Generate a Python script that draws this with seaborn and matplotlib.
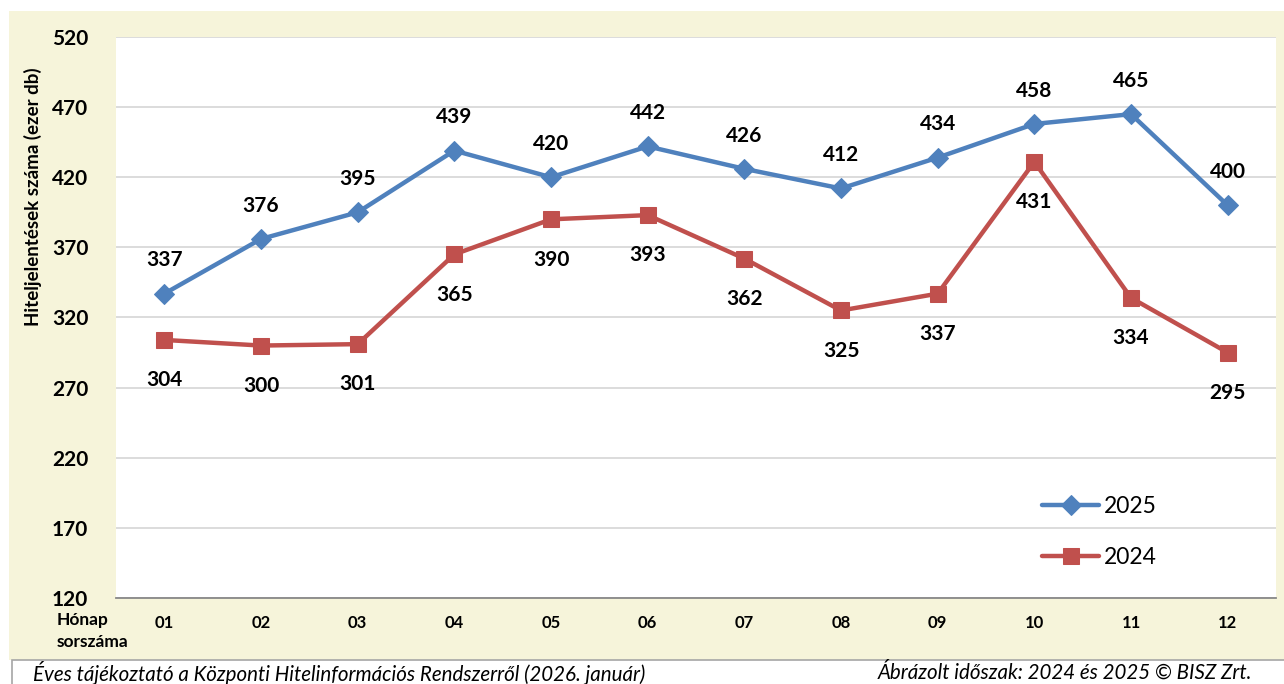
#%% Hiteljelentések száma havonta (2024 vs 2025)
import pandas as pd
import seaborn as sns
import matplotlib.pyplot as plt
from matplotlib.patches import Rectangle
from matplotlib.ticker import FixedLocator, NullFormatter

#%% Adatok

honapok = ['01', '02', '03', '04', '05', '06', '07', '08', '09', '10', '11', '12']
ertek_2025 = [337, 376, 395, 439, 420, 442, 426, 412, 434, 458, 465, 400]
ertek_2024 = [304, 300, 301, 365, 390, 393, 362, 325, 337, 431, 334, 295]
y_ticks = [120, 170, 220, 270, 320, 370, 420, 470, 520]

kek = '#4F81BD'
piros = '#C0504D'
bezs = '#F6F4DA'

df = pd.DataFrame({'idx': range(len(honapok)), '2025': ertek_2025, '2024': ertek_2024})

#%% Ábra

sns.set_style('white')
plt.rcParams['font.family'] = ['Lato', 'DejaVu Sans']
plt.rcParams['text.color'] = 'black'
plt.rcParams['xtick.labelcolor'] = 'black'
plt.rcParams['ytick.labelcolor'] = 'black'

fig = plt.figure(figsize=(12.84, 6.84), dpi=100)
fig.patch.set_facecolor('white')
W, H = 1284, 684

# bézs háttér
fig.patches.append(Rectangle((9 / W, 1 - 660 / H), 1 - 9 / W, (660 - 11) / H,
                             transform=fig.transFigure, facecolor=bezs, edgecolor='none', zorder=-2))
# lábléc doboz
fig.patches.append(Rectangle((12 / W, -0.01), 1 - 12 / W + 0.01, (684 - 660) / H + 0.01,
                             transform=fig.transFigure, facecolor='white', edgecolor='#A6A6A6',
                             linewidth=1.2, zorder=-2))

ax = fig.add_axes([116 / W, 1 - 598 / H, (1276 - 116) / W, (598 - 37) / H])
ax.set_zorder(1)
ax.set_facecolor('white')

sns.lineplot(data=df, x='idx', y='2025', ax=ax, color=kek, linewidth=3.2,
             marker='D', markersize=10, markeredgecolor=kek, label='2025', zorder=4)
sns.lineplot(data=df, x='idx', y='2024', ax=ax, color=piros, linewidth=3.2,
             marker='s', markersize=12, markeredgecolor=piros, label='2024', zorder=3)

ax.set_xlim(-0.5, len(honapok) - 0.5)
ax.set_ylim(120, 520)
ax.set_yticks(y_ticks)
ax.set_yticklabels([str(v) for v in y_ticks], fontsize=15, fontweight='bold')
ax.yaxis.grid(True, color='#D9D9D9', linewidth=1.3)
ax.tick_params(axis='y', length=0, pad=20)

# kategória-határokon tickek, középen címkék
ax.xaxis.set_major_locator(FixedLocator([i - 0.5 for i in range(len(honapok) + 1)]))
ax.xaxis.set_major_formatter(NullFormatter())
ax.xaxis.set_minor_locator(FixedLocator(list(range(len(honapok)))))
ax.set_xticklabels(honapok, minor=True, fontsize=12, fontweight='bold')
ax.tick_params(axis='x', which='major', length=5, color='#888888', direction='out')
ax.tick_params(axis='x', which='minor', length=0, pad=12)

for s in ['top', 'right', 'left']:
    ax.spines[s].set_visible(False)
ax.spines['bottom'].set_color('#888888')
ax.spines['bottom'].set_linewidth(1.3)

ax.set_xlabel('')
ax.set_ylabel('')

# adatcímkék
for i, v in enumerate(ertek_2025):
    ax.annotate(str(v), (i, v), xytext=(0, 24), textcoords='offset points',
                ha='center', va='center', fontsize=15, fontweight='bold')
for i, v in enumerate(ertek_2024):
    ax.annotate(str(v), (i, v), xytext=(0, -29), textcoords='offset points',
                ha='center', va='center', fontsize=15, fontweight='bold')

ax.legend(loc='lower right', bbox_to_anchor=(0.911, 0.025), frameon=False, fontsize=16.5,
          handlelength=2.5, handletextpad=0.2, labelspacing=1.3, borderpad=0.2)

# szövegek
fig.text(33 / W, 1 - 197 / H, 'Hiteljelentések száma (ezer db)', rotation=90,
         ha='center', va='center', fontsize=13.5, fontweight='bold')
fig.text(57 / W, 1 - 631 / H, 'Hónap\nsorszáma', ha='left', va='center',
         fontsize=12.5, fontweight='bold', linespacing=1.4)
fig.text(33 / W, 1 - 673 / H, 'Éves tájékoztató a Központi Hitelinformációs Rendszerről (2026. január)',
         ha='left', va='center', fontsize=14.8, style='italic')
fig.text(1252 / W, 1 - 673 / H, 'Ábrázolt időszak: 2024 és 2025 © BISZ Zrt.',
         ha='right', va='center', fontsize=14.8, style='italic')

fig.savefig('out.png', dpi=100, facecolor=fig.get_facecolor())
